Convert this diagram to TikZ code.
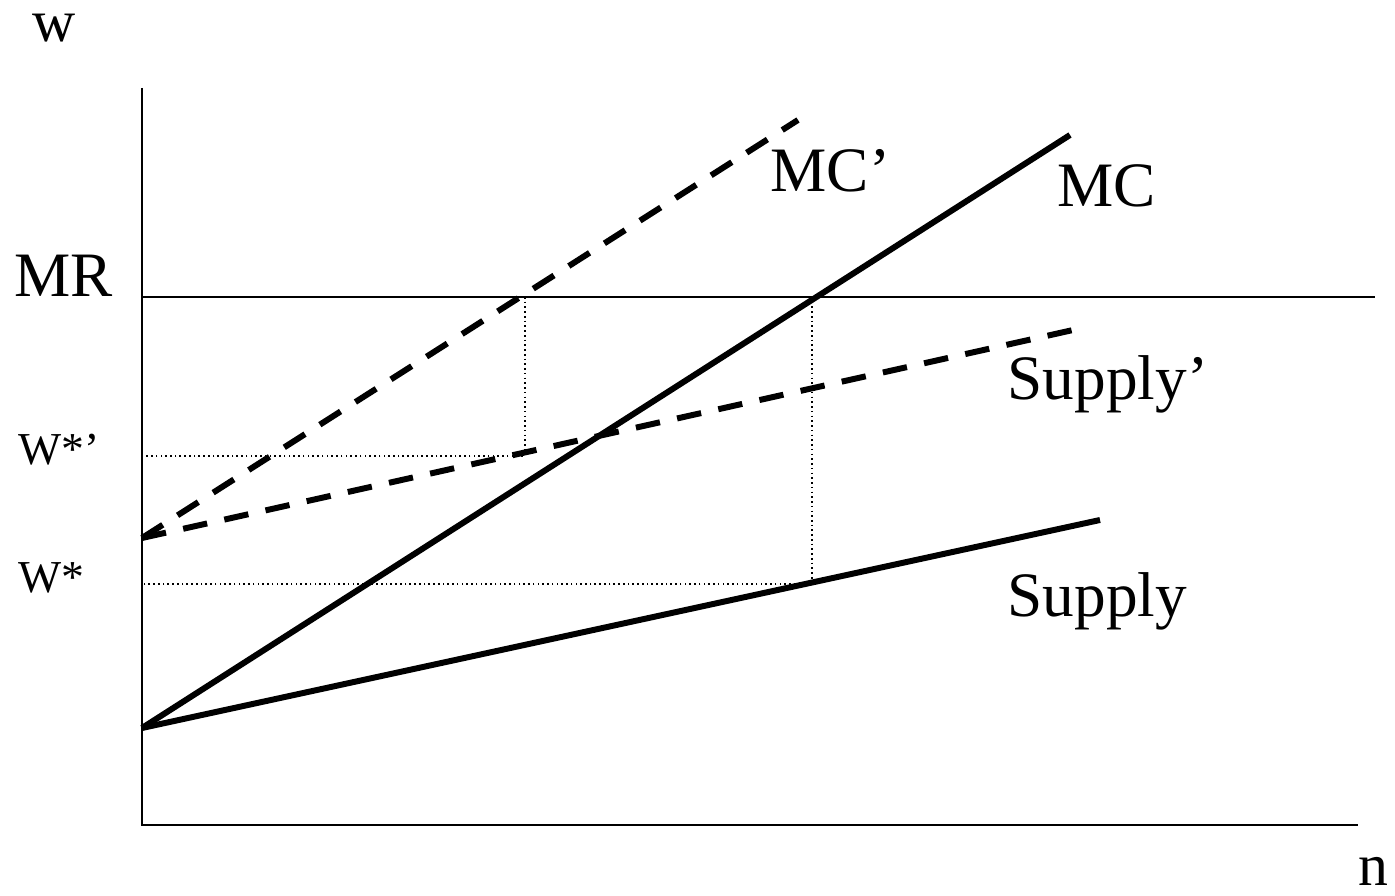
\documentclass[tikz,border=0pt]{standalone}
\usepackage{fontspec}
\setmainfont{Liberation Serif}
\begin{document}
\begin{tikzpicture}
        \tikzstyle{every node} = [inner sep=0pt, anchor=base west, font=\fontsize{18}{18}\selectfont]
        \tikzstyle{small} = [font=\fontsize{13}{13}\selectfont]
        \tikzstyle{curve} = [line width=1.7pt]
        \tikzstyle{shifted} = [line width=1.7pt, dash pattern=on 7pt off 5pt]
        \tikzstyle{guide} = [line width=0.45pt, dash pattern=on 0.45pt off 0.9pt]
        \useasboundingbox (0,0) rectangle (13.95,8.95);

        % axes and MR
        \coordinate (o) at (1.42,0.70);
        \coordinate (ytop) at (1.42,8.07);
        \coordinate (xend) at (13.58,0.70);
        \coordinate (mr0) at (1.42,5.98);
        \coordinate (mr1) at (13.75,5.98);
        \draw[line width=0.6pt] (ytop) -- (o) -- (xend);
        \draw[line width=0.45pt] (mr0) -- (mr1);

        % curves
        \coordinate (s0) at (1.42,1.67);
        \coordinate (t0) at (1.42,3.57);
        \coordinate (mc) at (10.70,7.60);
        \coordinate (sup) at (11.00,3.75);
        \coordinate (mcp) at (7.98,7.75);
        \coordinate (supp) at (10.82,5.67);
        \foreach \from/\to/\sty in {s0/mc/curve, s0/sup/curve, t0/mcp/shifted, t0/supp/shifted}
            \draw[\sty] (\from) -- (\to);

        % optimum guides
        \coordinate (a) at (5.25,5.98);
        \coordinate (a1) at (5.25,4.39);
        \coordinate (a2) at (1.42,4.39);
        \coordinate (b) at (8.12,5.98);
        \coordinate (b1) at (8.12,3.11);
        \coordinate (b2) at (1.42,3.11);
        \draw[guide] (a) -- (a1) -- (a2);
        \draw[guide] (b) -- (b1) -- (b2);

        % labels
        \node[font=\fontsize{17}{17}\selectfont] (w) at (0.32,8.53) {w};
        \node[font=\fontsize{17}{17}\selectfont] (n) at (13.58,0.10) {n};
        \node (MR) at (0.14,5.98) {MR};
        \node[small] (wsp) at (0.18,4.30) {W*’};
        \node[small] (ws) at (0.18,3.02) {W*};
        \node (MCp) at (7.70,7.03) {MC’};
        \node (MC) at (10.57,6.88) {MC};
        \node (Supp) at (10.07,4.95) {Supply’};
        \node (Sup) at (10.07,2.78) {Supply};
\end{tikzpicture}
\end{document}
